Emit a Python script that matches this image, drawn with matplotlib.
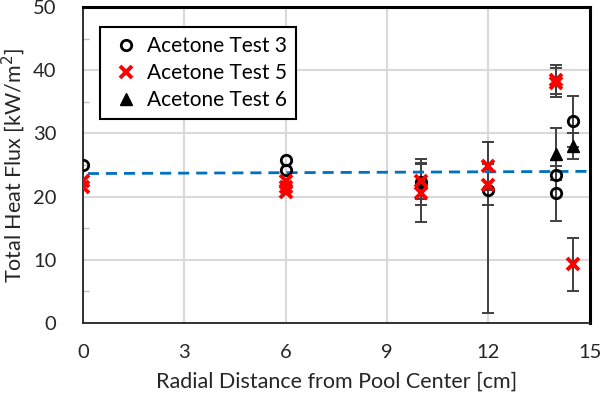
import numpy as np
import matplotlib
matplotlib.use("Agg")
import matplotlib.pyplot as plt

plt.rcParams['font.family'] = ['Lato', 'DejaVu Sans']

# Acetone Test 3 (open circles)
t3_x = [0, 6, 6, 10, 12, 14, 14, 14.5]
t3_y = [25.0, 25.8, 24.2, 22.3, 21.1, 23.5, 20.5, 31.9]
t3_lo = [0, 0, 0, 3.6, 19.5, 0, 4.3, 4.1]
t3_hi = [0, 0, 0, 3.6, 7.5, 0, 4.3, 4.1]

# Acetone Test 5 (red crosses)
t5_x = [0, 0, 6, 6, 6, 10, 10, 12, 12, 14, 14, 14.5]
t5_y = [22.5, 21.5, 22.4, 21.6, 20.8, 22.5, 20.6, 24.8, 21.9, 38.5, 38.0, 9.3]
t5_err = [0, 0, 0, 0, 0, 2.9, 4.6, 3.8, 3.3, 2.3, 2.3, 4.2]

# Acetone Test 6 (filled triangles)
t6_x = [10, 14, 14.5]
t6_y = [22.3, 26.7, 28.0]
t6_err = [0, 4.1, 2.0]

# linear fit (dashed)
fit_x = [0.15, 15]
fit_y = [23.65, 24.0]

fig = plt.figure(figsize=(6, 4.03), dpi=100)
ax = fig.add_axes([0.138, 0.1985, 0.845, 0.784])

ebar_kw = dict(fmt='none', ecolor='#404040', elinewidth=1.4, capsize=4, capthick=1.4, zorder=2)


def draw_err(x, y, lo, hi):
    x, y, lo, hi = map(np.asarray, (x, y, lo, hi))
    m = (lo > 0) | (hi > 0)
    ax.errorbar(x[m], y[m], yerr=[lo[m], hi[m]], **ebar_kw)


draw_err(t3_x, t3_y, t3_lo, t3_hi)
draw_err(t5_x, t5_y, t5_err, t5_err)
draw_err(t6_x, t6_y, t6_err, t6_err)

ax.plot(fit_x, fit_y, color='#0070C0', lw=2, ls=(0, (4, 2.5)), zorder=3)

ax.plot(t3_x, t3_y, ls='none', marker='o', ms=7.5, mfc='none', mec='black', mew=2,
        label='Acetone Test 3', zorder=4)
ax.plot(t6_x, t6_y, ls='none', marker='^', ms=9, color='black',
        label='Acetone Test 6', zorder=4)
ax.plot(t5_x, t5_y, ls='none', marker='x', ms=9, mec='#FF0000', mew=2.8,
        label='Acetone Test 5', zorder=5)

ax.set_xlim(0, 15)
ax.set_ylim(0, 50)
ax.set_xticks(np.arange(0, 16, 3))
ax.set_yticks(np.arange(0, 51, 10))
ax.set_yticks(np.arange(5, 50, 10), minor=True)
ax.tick_params(axis='both', which='major', length=0, labelsize=14.5, colors='#262626')
ax.tick_params(axis='x', which='major', pad=15)
ax.tick_params(axis='y', which='major', pad=19)
ax.tick_params(axis='y', which='minor', direction='in', length=4, color='#bfbfbf', width=1)
ax.grid(True, which='major', color='#d9d9d9', lw=1.5)
ax.set_axisbelow(True)

for s in ['left', 'bottom']:
    ax.spines[s].set_linewidth(1.3)
    ax.spines[s].set_color('#222222')
for s in ['top', 'right']:
    ax.spines[s].set_linewidth(2.2)
    ax.spines[s].set_color('black')

ax.set_xlabel('Radial Distance from Pool Center [cm]', fontsize=15.5, labelpad=8, color='#262626')
ax.set_ylabel('Total Heat Flux [kW/m$^2$]', fontsize=15.5, labelpad=4, color='#262626')

h, l = ax.get_legend_handles_labels()
order = [0, 2, 1]
leg = ax.legend([h[i] for i in order], [l[i] for i in order], loc='upper left',
                bbox_to_anchor=(0.034, 0.937), borderaxespad=0, fontsize=15,
                fancybox=False, framealpha=1, edgecolor='black',
                handletextpad=0.2, handlelength=1.6, labelspacing=0.33, borderpad=0.45)
leg.get_frame().set_linewidth(1.5)

plt.savefig('out.png', dpi=100)
